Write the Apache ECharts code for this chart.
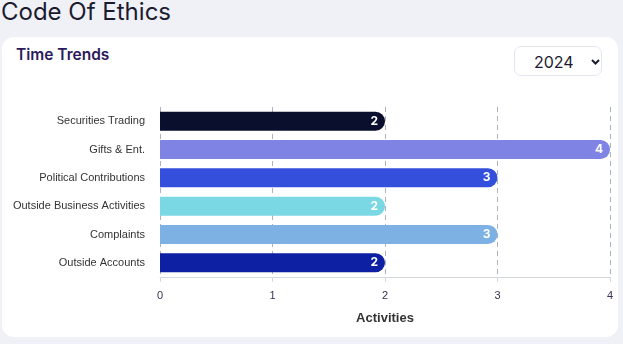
<!DOCTYPE html>
<html><head><meta charset="utf-8">
<script src="https://cdn.jsdelivr.net/npm/echarts@6/dist/echarts.min.js"></script>
<style>
html,body{margin:0;padding:0;width:623px;height:344px;background:#f0f1f7;overflow:hidden;font-family:Inter,"Open Sans",sans-serif;}
#title{position:absolute;left:1px;top:-3px;font-size:24px;color:#1c1c30;font-family:Inter,sans-serif;font-weight:400;}
#card{position:absolute;left:2px;top:37px;width:616px;height:300px;background:#fff;border-radius:12px;}
#sub{position:absolute;left:16px;top:45px;font-size:15.5px;font-weight:600;color:#2b1a5a;font-family:Inter,sans-serif;}
#sel{position:absolute;left:514px;top:46px;width:88px;height:30px;border:1px solid #e4e4f2;border-radius:7px;background:#fff;box-sizing:border-box;}
#sel span{position:absolute;left:19px;top:5px;font-size:16px;color:#1c1c30;font-family:Inter,sans-serif;}
#sel svg{position:absolute;left:76px;top:12px;}
#chart{position:absolute;left:2px;top:38px;width:616px;height:300px;}
</style></head><body>
<div id="title">Code Of Ethics</div>
<div id="card"></div>
<div id="sub">Time Trends</div>
<div id="chart"></div>
<div id="sel"><span>2024</span><svg width="9" height="6" viewBox="0 0 9 6"><polyline points="1,1 4.5,4.5 8,1" fill="none" stroke="#1c1c30" stroke-width="2"/></svg></div>
<script>
const categories = ["Securities Trading","Gifts & Ent.","Political Contributions","Outside Business Activities","Complaints","Outside Accounts"];
const values = [2,4,3,2,3,2];
const colors = ["#0a0f2e","#7e83e4","#334fdb","#7ad8e4","#7db1e3","#0d1fa3"];
const xTicks = [0,1,2,3,4];

const chart = echarts.init(document.getElementById('chart'));
chart.setOption({
  animation:false,
  grid:{left:158,right:8,top:69,bottom:61},
  xAxis:{
    type:'value',min:xTicks[0],max:xTicks[xTicks.length-1],interval:1,
    name:'Activities',nameLocation:'middle',nameGap:35,
    nameTextStyle:{fontFamily:'Liberation Sans, Arial',fontWeight:'bold',fontSize:13,color:'#333'},
    axisLine:{show:true,lineStyle:{color:'#d5d9de'}},
    axisTick:{show:true,length:5,lineStyle:{color:'#d5d9de'}},
    axisLabel:{fontFamily:'Liberation Sans, Arial',fontSize:11,color:'#3a3050',margin:13},
    splitLine:{show:true,lineStyle:{type:[5,4],color:'#a9b4c0'}}
  },
  yAxis:{
    type:'category',data:categories,inverse:true,
    axisLine:{show:false},axisTick:{show:false},
    axisLabel:{fontFamily:'Liberation Sans, Arial',fontSize:11,color:'#333',margin:15}
  },
  series:[{
    type:'bar',barWidth:19,
    data:values.map((v,i)=>({value:v,itemStyle:{color:colors[i]}})),
    itemStyle:{borderRadius:[0,10,10,0]},
    label:{show:true,position:'insideRight',color:'#fff',fontWeight:'bold',fontSize:12,fontFamily:'Inter, sans-serif',offset:[-2,0]}
  }]
});
</script>
</body></html>
